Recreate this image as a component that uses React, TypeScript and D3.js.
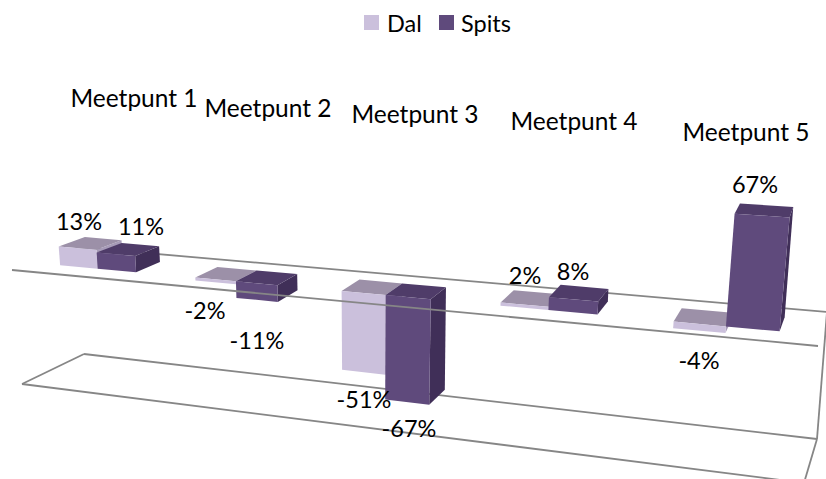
import React from "react";
import * as d3 from "d3";

const categories = ["Meetpunt 1", "Meetpunt 2", "Meetpunt 3", "Meetpunt 4", "Meetpunt 5"];
const seriesNames = ["Dal", "Spits"];
const dal = [13, -2, -51, 2, -4];
const spits = [11, -11, -67, 8, 67];

const W = 826, H = 479;
const FONT = "Lato, 'Open Sans', sans-serif";
const FS = 23.5;
const GRID = "#868686";
const fills = [
  { front: "#CBC0DC", top: "#9C90A8", side: "#A79BB8" },
  { front: "#5F4A7C", top: "#4F3C69", side: "#402F58" },
];

// Plane corners: front-left, front-right, back-left, back-right
const zeroPlane = { fl: [12, 270], fr: [818, 346], bl: [76, 247], br: [827, 312] };
const floorPlane = { fl: [22, 384], fr: [804, 483], bl: [84, 354], br: [817, 439] };
const floorValue = -78;
const C = -0.1885; // horizontal foreshortening
const uMargin = [33, 821];

const band = d3.scaleBand<number>().domain(d3.range(categories.length)).range([0, 1]);
const barW = band.bandwidth() / 3.5;
const depth0 = 0.32, depth1 = 0.74;
const tScale = d3.scaleLinear().domain([0, floorValue]).range([0, 1]);

function warp(u: number) {
  const x = (33 + (uMargin[1] * (1 + C) - uMargin[0]) * u) / (1 + C * u);
  return (x - uMargin[0]) / (uMargin[1] - uMargin[0]);
}
function onPlane(p: typeof zeroPlane, w: number, d: number) {
  const fx = p.fl[0] + (p.fr[0] - p.fl[0]) * w, fy = p.fl[1] + (p.fr[1] - p.fl[1]) * w;
  const bx = p.bl[0] + (p.br[0] - p.bl[0]) * w, by = p.bl[1] + (p.br[1] - p.bl[1]) * w;
  return [fx + (bx - fx) * d, fy + (by - fy) * d];
}
function project(u: number, d: number, v: number): [number, number] {
  const w = warp(u);
  const a = onPlane(zeroPlane, w, d), b = onPlane(floorPlane, w, d);
  const t = tScale(v);
  return [a[0] + (b[0] - a[0]) * t, a[1] + (b[1] - a[1]) * t];
}
const poly = (pts: [number, number][]) => d3.line()(pts) + "Z";

const catLabelPos = [[134, 97], [268, 107], [415, 113], [574, 120], [746, 131]];
const valueLabelPos = [
  [[79, 221], [141, 226]],
  [[205, 310], [257, 340]],
  [[364, 399], [409, 428]],
  [[525, 275], [573, 271]],
  [[699, 360], [755, 184]],
];

function Bar({ i, s, v }: { i: number; s: number; v: number }) {
  const start = band(i)! + band.bandwidth() / 2 - barW + s * barW;
  const u0 = start, u1 = start + barW;
  const hi = Math.max(v, 0), lo = Math.min(v, 0);
  const f = fills[s];
  return (
    <g>
      <path d={poly([project(u1, depth0, hi), project(u1, depth1, hi), project(u1, depth1, lo), project(u1, depth0, lo)])} fill={f.side} />
      <path d={poly([project(u0, depth0, hi), project(u1, depth0, hi), project(u1, depth1, hi), project(u0, depth1, hi)])} fill={f.top} />
      <path d={poly([project(u0, depth0, hi), project(u1, depth0, hi), project(u1, depth0, lo), project(u0, depth0, lo)])} fill={f.front} />
    </g>
  );
}

export default function App() {
  const line = (a: number[], b: number[], k: string) => (
    <line key={k} x1={a[0]} y1={a[1]} x2={b[0]} y2={b[1]} stroke={GRID} strokeWidth={1.8} />
  );
  return (
    <svg width={W} height={H} style={{ position: "absolute", left: 0, top: 0, background: "#fff" }} fontFamily={FONT} fontSize={FS} fill="#000">
      {line(zeroPlane.bl, zeroPlane.br, "zb")}
      {line(zeroPlane.br, floorPlane.br, "wall")}
      {line(floorPlane.bl, floorPlane.br, "fb")}
      {line(floorPlane.bl, floorPlane.fl, "fs")}
      {line(floorPlane.fl, floorPlane.fr, "ff")}
      {line(floorPlane.br, floorPlane.fr, "fr")}
      {categories.map((_, i) => (
        <g key={i}>
          <Bar i={i} s={0} v={dal[i]} />
          <Bar i={i} s={1} v={spits[i]} />
        </g>
      ))}
      {line(zeroPlane.fl, zeroPlane.fr, "zf")}
      {categories.map((c, i) => (
        <text key={c} x={catLabelPos[i][0]} y={catLabelPos[i][1]} fontSize={24.5} textAnchor="middle" dominantBaseline="central">{c}</text>
      ))}
      {categories.map((_, i) =>
        [dal[i], spits[i]].map((v, s) => (
          <text key={i + "-" + s} x={valueLabelPos[i][s][0]} y={valueLabelPos[i][s][1]} textAnchor="middle" dominantBaseline="central">{v}%</text>
        ))
      )}
      <rect x={364} y={15} width={15} height={15} fill={fills[0].front} />
      <text x={387} y={23} dominantBaseline="central">{seriesNames[0]}</text>
      <rect x={439} y={15} width={15} height={15} fill={fills[1].front} />
      <text x={461} y={23} dominantBaseline="central">{seriesNames[1]}</text>
    </svg>
  );
}
